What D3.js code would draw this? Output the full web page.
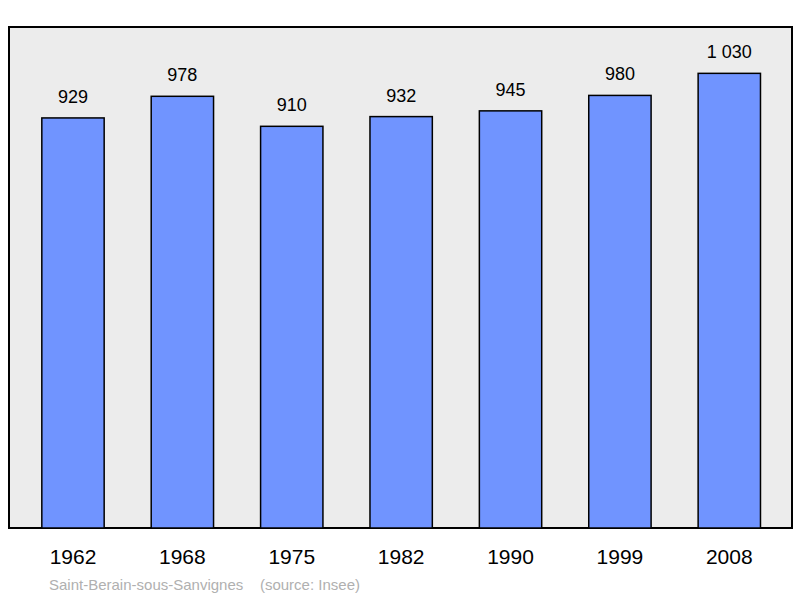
<!DOCTYPE html>
<html><head><meta charset="utf-8">
<script src="https://cdn.jsdelivr.net/npm/d3@7"></script>
<style>body{margin:0;background:#fff}svg{font-family:"Liberation Sans",Arial,sans-serif}</style>
</head><body>
<svg id="chart" width="800" height="598"></svg>
<script>
var years = ['1962', '1968', '1975', '1982', '1990', '1999', '2008'];
var population = [929, 978, 910, 932, 945, 980, 1030];
var valueLabels = ['929', '978', '910', '932', '945', '980', '1 030'];

var svg = d3.select('#chart');

svg.append('rect')
    .attr('x', 9).attr('y', 27).attr('width', 783).attr('height', 501)
    .attr('fill', '#ececec').attr('stroke', '#000').attr('stroke-width', 2);

var x = d3.scaleBand().domain(years).range([18.3, 784]).paddingInner(0.43).paddingOuter(0.215);
var y = d3.scaleLinear().domain([0, 1135]).range([528, 27]);

svg.selectAll('rect.bar').data(population).enter().append('rect')
    .attr('class', 'bar')
    .attr('x', function(d, i){ return x(years[i]); })
    .attr('y', function(d){ return y(d); })
    .attr('width', x.bandwidth())
    .attr('height', function(d){ return 528 - y(d); })
    .attr('fill', '#7094ff').attr('stroke', '#000').attr('stroke-width', 1.5);

svg.selectAll('text.val').data(population).enter().append('text')
    .attr('class', 'val')
    .attr('x', function(d, i){ return x(years[i]) + x.bandwidth() / 2; })
    .attr('y', function(d){ return y(d) - 15; })
    .attr('text-anchor', 'middle').attr('font-size', 18)
    .text(function(d, i){ return valueLabels[i]; });

svg.selectAll('text.year').data(years).enter().append('text')
    .attr('class', 'year')
    .attr('x', function(d){ return x(d) + x.bandwidth() / 2; })
    .attr('y', 564)
    .attr('text-anchor', 'middle').attr('font-size', 21)
    .text(function(d){ return d; });

svg.append('text')
    .attr('x', 49).attr('y', 590).attr('font-size', 15).attr('fill', '#b0b0b0')
    .attr('xml:space', 'preserve')
    .text('Saint-Berain-sous-Sanvignes    (source: Insee)');
</script>
</body></html>
